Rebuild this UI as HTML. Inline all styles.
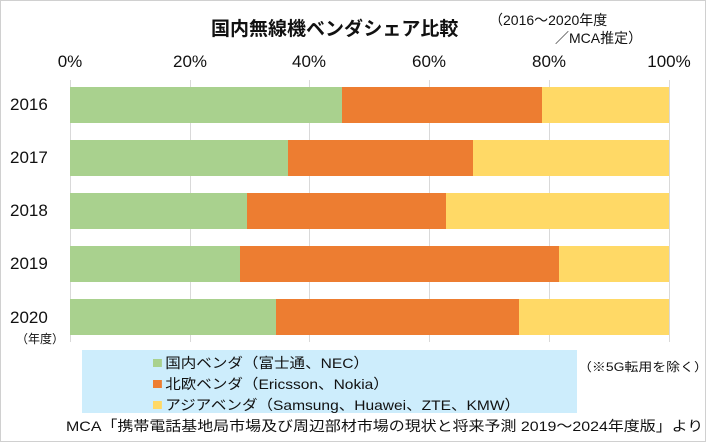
<!DOCTYPE html>
<html><head><meta charset="utf-8"><style>
*{margin:0;padding:0}
body{width:706px;height:442px;position:relative;background:#fff;font-family:"Liberation Sans","Noto Sans CJK JP",sans-serif;color:#111;overflow:hidden}
.a{position:absolute;white-space:nowrap}
.g{position:absolute;top:80px;height:262px;width:1px;background:#d9d9d9}
.bar{position:absolute;height:36px}
.x{font-size:17px;top:52px;transform:translateX(-50%)}
.y{font-size:17px;left:10px}
.lg{font-size:14px;left:153px;transform:scaleX(1.11);transform-origin:0 0}
.sq{display:inline-block;width:8px;height:8px;margin-right:3px;vertical-align:1px}
</style></head><body>
<div class="a" style="left:0;top:0;width:704px;height:440px;border:1px solid #d0d0d0"></div>
<div class="a" style="left:211px;top:14px;font-size:19px;font-weight:bold">国内無線機ベンダシェア比較</div>
<div class="a" style="left:489px;top:10px;font-size:14px">（2016～2020年度</div>
<div class="a" style="left:555px;top:28px;font-size:14px">／MCA推定）</div>
<div class="a x" style="left:70px">0%</div>
<div class="a x" style="left:190px">20%</div>
<div class="a x" style="left:309px">40%</div>
<div class="a x" style="left:429px">60%</div>
<div class="a x" style="left:549px">80%</div>
<div class="a x" style="left:669px">100%</div>
<div class="g" style="left:70px"></div><div class="g" style="left:190px"></div><div class="g" style="left:309px"></div><div class="g" style="left:429px"></div><div class="g" style="left:549px"></div><div class="g" style="left:669px"></div>

<div class="bar" style="top:87px;left:70px;width:272px;background:#a9d18e"></div><div class="bar" style="top:87px;left:342px;width:200px;background:#ed7d31"></div><div class="bar" style="top:87px;left:542px;width:127px;background:#ffd966"></div>
<div class="bar" style="top:140px;left:70px;width:218px;background:#a9d18e"></div><div class="bar" style="top:140px;left:288px;width:185px;background:#ed7d31"></div><div class="bar" style="top:140px;left:473px;width:196px;background:#ffd966"></div>
<div class="bar" style="top:193px;left:70px;width:177px;background:#a9d18e"></div><div class="bar" style="top:193px;left:247px;width:199px;background:#ed7d31"></div><div class="bar" style="top:193px;left:446px;width:223px;background:#ffd966"></div>
<div class="bar" style="top:246px;left:70px;width:170px;background:#a9d18e"></div><div class="bar" style="top:246px;left:240px;width:319px;background:#ed7d31"></div><div class="bar" style="top:246px;left:559px;width:110px;background:#ffd966"></div>
<div class="bar" style="top:299px;left:70px;width:206px;background:#a9d18e"></div><div class="bar" style="top:299px;left:276px;width:243px;background:#ed7d31"></div><div class="bar" style="top:299px;left:519px;width:150px;background:#ffd966"></div>

<div class="a y" style="top:95px">2016</div>
<div class="a y" style="top:148px">2017</div>
<div class="a y" style="top:201px">2018</div>
<div class="a y" style="top:254px">2019</div>
<div class="a y" style="top:308px">2020</div>
<div class="a" style="left:16px;top:330px;font-size:12px">（年度）</div>

<div class="a" style="left:82px;top:350px;width:495px;height:63px;background:#cdedfc"></div>
<div class="a lg" style="top:353px"><span class="sq" style="background:#a9d18e"></span>国内ベンダ（富士通、NEC）</div>
<div class="a lg" style="top:374px"><span class="sq" style="background:#ed7d31"></span>北欧ベンダ（Ericsson、Nokia）</div>
<div class="a lg" style="top:395px"><span class="sq" style="background:#ffd966"></span>アジアベンダ（Samsung、Huawei、ZTE、KMW）</div>
<div class="a" style="left:578px;top:358px;font-size:12px;transform:scaleX(1.16);transform-origin:0 0">（※5G転用を除く）</div>
<div class="a" style="left:66px;top:416px;font-size:14px;transform:scaleX(1.14);transform-origin:0 0">MCA「携帯電話基地局市場及び周辺部材市場の現状と将来予測 2019～2024年度版」より</div>
</body></html>
